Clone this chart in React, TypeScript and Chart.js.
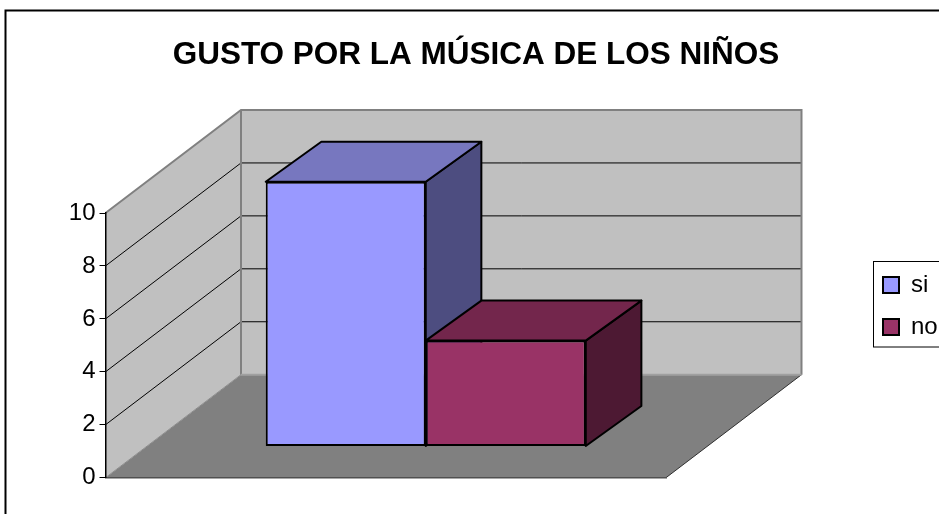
import React, { useEffect, useRef } from "react";
import { Chart, registerables } from "chart.js";

Chart.register(...registerables);

const categories = [""];
const siValues = [10];
const noValues = [4];
const yTicks = [0, 2, 4, 6, 8, 10];
const titleText = "GUSTO POR LA MÚSICA DE LOS NIÑOS";

const FONT = "'Liberation Sans', Arial, sans-serif";
const WALL_DX = 135.5;
const WALL_DY = -103;
const BAR_OFF_X = 40;
const BAR_OFF_Y = -31.2;
const BAR_DEPTH_X = 55.6;
const BAR_DEPTH_Y = -40;

const topColors = ["#7777BF", "#73264C"];
const sideColors = ["#4D4D80", "#4D1933"];

function poly(ctx: CanvasRenderingContext2D, pts: number[][], fill: string, stroke?: string, lw = 1) {
  ctx.beginPath();
  pts.forEach((p, i) => (i ? ctx.lineTo(p[0], p[1]) : ctx.moveTo(p[0], p[1])));
  ctx.closePath();
  ctx.fillStyle = fill;
  ctx.fill();
  if (stroke) {
    ctx.strokeStyle = stroke;
    ctx.lineWidth = lw;
    ctx.lineJoin = "round";
    ctx.stroke();
  }
}

const scene3d = {
  id: "scene3d",
  afterLayout(chart: any) {
    const t = chart.titleBlock;
    if (t) {
      t.left = 13;
      t.right = 939;
    }
    const l = chart.legend;
    if (l) {
      l.left = 865;
      l.right = 939;
      l.top = 255;
      l.bottom = 360;
    }
  },
  beforeDraw(chart: any) {
    const { ctx, scales } = chart;
    const y = scales.y;
    const x = scales.x;
    const l = x.left;
    const r = x.right;
    const y0 = y.getPixelForValue(0);
    const yMax = y.getPixelForValue(10);
    const dx = WALL_DX;
    const dy = WALL_DY;
    ctx.save();
    // outer frame
    ctx.strokeStyle = "#000";
    ctx.lineWidth = 2;
    ctx.strokeRect(5.5, 10.5, 1000, 600);
    // floor
    poly(ctx, [[l, y0], [r, y0], [r + dx, y0 + dy], [l + dx, y0 + dy]], "#808080");
    ctx.beginPath();
    ctx.moveTo(r, y0);
    ctx.lineTo(r + dx, y0 + dy);
    ctx.strokeStyle = "#303030";
    ctx.lineWidth = 1;
    ctx.stroke();
    // left wall
    poly(ctx, [[l, y0], [l, yMax], [l + dx, yMax + dy], [l + dx, y0 + dy]], "#C0C0C0");
    // back wall
    poly(ctx, [[l + dx, y0 + dy], [l + dx, yMax + dy], [r + dx, yMax + dy], [r + dx, y0 + dy]], "#C0C0C0");
    // gridlines
    ctx.strokeStyle = "#000";
    ctx.lineWidth = 1;
    yTicks.filter((v) => v > 0 && v < 10).forEach((v) => {
      const p = y.getPixelForValue(v);
      ctx.beginPath();
      ctx.moveTo(l, p);
      ctx.lineTo(l + dx, p + dy);
      ctx.lineTo(r + dx, p + dy);
      ctx.stroke();
    });
    // wall edges
    ctx.strokeStyle = "#808080";
    ctx.lineWidth = 2;
    ctx.beginPath();
    ctx.moveTo(l, yMax);
    ctx.lineTo(l + dx, yMax + dy);
    ctx.lineTo(r + dx, yMax + dy);
    ctx.lineTo(r + dx, y0 + dy);
    ctx.moveTo(l + dx, yMax + dy);
    ctx.lineTo(l + dx, y0 + dy);
    ctx.stroke();
    ctx.strokeStyle = "#A0A0A0";
    ctx.beginPath();
    ctx.moveTo(l + dx, y0 + dy);
    ctx.lineTo(r + dx, y0 + dy);
    ctx.stroke();
    ctx.strokeStyle = "#8C8C8C";
    ctx.lineWidth = 1;
    ctx.beginPath();
    ctx.moveTo(l, y0);
    ctx.lineTo(l + dx, y0 + dy);
    ctx.stroke();
    ctx.restore();
  },
  beforeDatasetsDraw(chart: any) {
    const { ctx } = chart;
    ctx.save();
    ctx.translate(BAR_OFF_X, BAR_OFF_Y);
    // depth faces of every bar, left to right, before the native front faces
    chart.data.datasets.forEach((_: any, i: number) => {
      const bar = chart.getDatasetMeta(i).data[0];
      const xl = bar.x - bar.width / 2;
      const xr = bar.x + bar.width / 2;
      const yt = bar.y;
      const yb = bar.base;
      const ddx = BAR_DEPTH_X;
      const ddy = BAR_DEPTH_Y;
      poly(ctx, [[xr, yt], [xr + ddx, yt + ddy], [xr + ddx, yb + ddy], [xr, yb]], sideColors[i], "#000", 2);
      poly(ctx, [[xl, yt], [xl + ddx, yt + ddy], [xr + ddx, yt + ddy], [xr, yt]], topColors[i], "#000", 2);
    });
  },
  afterDatasetsDraw(chart: any) {
    chart.ctx.restore();
  },
  afterDraw(chart: any) {
    const { ctx } = chart;
    ctx.save();
    ctx.strokeStyle = "#000";
    ctx.lineWidth = 1;
    ctx.strokeRect(873.5, 261.5, 100, 85.5);
    ctx.restore();
  },
};

export default function App() {
  const ref = useRef<HTMLCanvasElement>(null);
  useEffect(() => {
    const chart = new Chart(ref.current!, {
      type: "bar",
      data: {
        labels: categories,
        datasets: [
          {
            label: "si",
            data: siValues,
            backgroundColor: "#9999FF",
            borderColor: "#000",
            borderWidth: 2,
            borderSkipped: false,
            clip: false,
          },
          {
            label: "no",
            data: noValues,
            backgroundColor: "#993366",
            borderColor: "#000",
            borderWidth: 2,
            borderSkipped: false,
            clip: false,
          },
        ] as any,
      },
      options: {
        animation: false,
        responsive: false,
        devicePixelRatio: 1,
        layout: { padding: { left: 0, right: 213, top: 0, bottom: 36.3 } },
        datasets: { bar: { categoryPercentage: 0.571, barPercentage: 1 } },
        plugins: {
          tooltip: { enabled: false },
          title: {
            display: true,
            text: titleText,
            color: "#000",
            font: { family: FONT, size: 31.5, weight: "bold", lineHeight: 1.2 },
            padding: { top: 36, bottom: 139.2 },
          },
          legend: {
            display: true,
            position: "right",
            align: "start",
            maxWidth: 60,
            labels: {
              color: "#000",
              font: { family: FONT, size: 24 },
              boxWidth: 16,
              boxHeight: 16,
              padding: 18,
            },
          },
        },
        scales: {
          x: {
            display: true,
            ticks: { display: false },
            grid: { display: false, drawTicks: false },
            border: { display: true, color: "#505050", width: 1.5 },
          },
          y: {
            min: 0,
            max: 10,
            afterFit(scale: any) {
              scale.width = 105.5;
            },
            afterBuildTicks(scale: any) {
              scale.ticks = yTicks.map((value) => ({ value }));
            },
            ticks: {
              color: "#000",
              font: { family: FONT, size: 24 },
              padding: 4,
            },
            grid: { drawOnChartArea: false, drawTicks: true, tickLength: 6, color: "#000", lineWidth: 1 },
            border: { display: true, color: "#000", width: 1.5 },
          },
        },
      } as any,
      plugins: [scene3d],
    });
    return () => chart.destroy();
  }, []);
  return (
    <canvas
      ref={ref}
      width={939}
      height={514}
      style={{ position: "fixed", left: 0, top: 0, width: 939, height: 514, display: "block" }}
    />
  );
}
